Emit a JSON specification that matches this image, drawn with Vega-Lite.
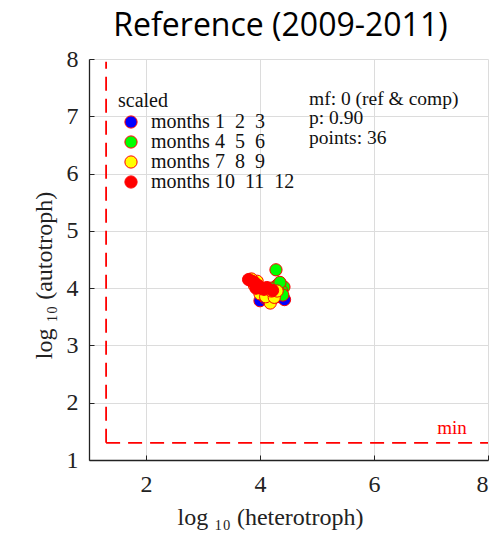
{
  "$schema": "https://vega.github.io/schema/vega-lite/v6.json",
  "autosize": "none",
  "width": 399,
  "height": 401,
  "padding": {"left": 89, "top": 59, "right": 7, "bottom": 80},
  "title": {"text": "Reference (2009-2011)", "font": "Open Sans", "fontSize": 32, "fontWeight": "normal", "color": "#000", "offset": 4, "dx": -8},
  "config": {
    "view": {"stroke": null},
    "axis": {"labelFont": "Liberation Serif", "titleFont": "Liberation Serif", "labelFontSize": 24, "titleFontSize": 24, "titleFontWeight": "normal", "labelColor": "#222", "titleColor": "#222", "domainColor": "#222", "tickColor": "#222", "gridColor": "#dcdcdc", "gridWidth": 1, "tickSize": -5, "domainWidth": 1.3, "format": "d"}
  },
  "data": {"values": [
    {"x": 4.0, "y": 3.78, "g": "months 1\u00a0\u00a02\u00a0\u00a03"},
    {"x": 4.1, "y": 3.82, "g": "months 1\u00a0\u00a02\u00a0\u00a03"},
    {"x": 4.2, "y": 3.8, "g": "months 1\u00a0\u00a02\u00a0\u00a03"},
    {"x": 4.3, "y": 3.85, "g": "months 1\u00a0\u00a02\u00a0\u00a03"},
    {"x": 4.43, "y": 3.8, "g": "months 1\u00a0\u00a02\u00a0\u00a03"},
    {"x": 4.35, "y": 3.9, "g": "months 1\u00a0\u00a02\u00a0\u00a03"},
    {"x": 4.15, "y": 3.9, "g": "months 1\u00a0\u00a02\u00a0\u00a03"},
    {"x": 4.05, "y": 3.88, "g": "months 1\u00a0\u00a02\u00a0\u00a03"},
    {"x": 4.25, "y": 3.95, "g": "months 1\u00a0\u00a02\u00a0\u00a03"},
    {"x": 4.28, "y": 4.32, "g": "months 4\u00a0\u00a05\u00a0\u00a06"},
    {"x": 4.42, "y": 4.02, "g": "months 4\u00a0\u00a05\u00a0\u00a06"},
    {"x": 4.38, "y": 3.95, "g": "months 4\u00a0\u00a05\u00a0\u00a06"},
    {"x": 4.3, "y": 4.05, "g": "months 4\u00a0\u00a05\u00a0\u00a06"},
    {"x": 4.2, "y": 4.0, "g": "months 4\u00a0\u00a05\u00a0\u00a06"},
    {"x": 4.35, "y": 4.1, "g": "months 4\u00a0\u00a05\u00a0\u00a06"},
    {"x": 4.1, "y": 3.95, "g": "months 4\u00a0\u00a05\u00a0\u00a06"},
    {"x": 4.25, "y": 3.9, "g": "months 4\u00a0\u00a05\u00a0\u00a06"},
    {"x": 4.4, "y": 3.88, "g": "months 4\u00a0\u00a05\u00a0\u00a06"},
    {"x": 4.18, "y": 3.74, "g": "months 7\u00a0\u00a08\u00a0\u00a09"},
    {"x": 4.0, "y": 3.9, "g": "months 7\u00a0\u00a08\u00a0\u00a09"},
    {"x": 3.9, "y": 4.05, "g": "months 7\u00a0\u00a08\u00a0\u00a09"},
    {"x": 3.95, "y": 4.12, "g": "months 7\u00a0\u00a08\u00a0\u00a09"},
    {"x": 4.1, "y": 3.85, "g": "months 7\u00a0\u00a08\u00a0\u00a09"},
    {"x": 4.25, "y": 3.84, "g": "months 7\u00a0\u00a08\u00a0\u00a09"},
    {"x": 4.3, "y": 3.95, "g": "months 7\u00a0\u00a08\u00a0\u00a09"},
    {"x": 3.85, "y": 4.16, "g": "months 7\u00a0\u00a08\u00a0\u00a09"},
    {"x": 4.2, "y": 3.95, "g": "months 7\u00a0\u00a08\u00a0\u00a09"},
    {"x": 3.8, "y": 4.15, "g": "months 10\u00a0\u00a011\u00a0\u00a012"},
    {"x": 3.86, "y": 4.12, "g": "months 10\u00a0\u00a011\u00a0\u00a012"},
    {"x": 3.9, "y": 4.1, "g": "months 10\u00a0\u00a011\u00a0\u00a012"},
    {"x": 3.96, "y": 4.05, "g": "months 10\u00a0\u00a011\u00a0\u00a012"},
    {"x": 4.02, "y": 4.0, "g": "months 10\u00a0\u00a011\u00a0\u00a012"},
    {"x": 4.07, "y": 3.98, "g": "months 10\u00a0\u00a011\u00a0\u00a012"},
    {"x": 4.12, "y": 4.01, "g": "months 10\u00a0\u00a011\u00a0\u00a012"},
    {"x": 4.22, "y": 3.96, "g": "months 10\u00a0\u00a011\u00a0\u00a012"},
    {"x": 3.93, "y": 4.0, "g": "months 10\u00a0\u00a011\u00a0\u00a012"}
  ]},
  "layer": [
    {
      "mark": {"type": "point", "filled": true, "size": 150, "stroke": "#ff0000", "strokeWidth": 1, "opacity": 1},
      "encoding": {
        "x": {"field": "x", "type": "quantitative", "scale": {"domain": [1, 8], "nice": false, "zero": false},
          "axis": {"values": [2, 4, 6, 8], "title": "log \u2081\u2080 (heterotroph)", "labelPadding": 17, "titlePadding": 9, "titleX": 181, "grid": true}},
        "y": {"field": "y", "type": "quantitative", "scale": {"domain": [1, 8], "nice": false, "zero": false},
          "axis": {"values": [1, 2, 3, 4, 5, 6, 7, 8], "title": "log \u2081\u2080 (autotroph)", "labelPadding": 16, "titlePadding": 10, "titleY": 216, "grid": true}},
        "color": {"field": "g", "type": "nominal",
          "scale": {"domain": ["months 1\u00a0\u00a02\u00a0\u00a03", "months 4\u00a0\u00a05\u00a0\u00a06", "months 7\u00a0\u00a08\u00a0\u00a09", "months 10\u00a0\u00a011\u00a0\u00a012"], "range": ["#0000ff", "#00ff00", "#ffff00", "#ff0000"]},
          "legend": {"title": "scaled", "orient": "none", "legendX": 29, "legendY": 32, "titleFont": "Liberation Serif", "titleFontSize": 20, "titleFontWeight": "normal", "titleColor": "#111", "titlePadding": 1, "labelFont": "Liberation Serif", "labelFontSize": 20, "labelColor": "#111", "symbolType": "circle", "symbolSize": 150, "symbolStrokeColor": "#ff0000", "symbolStrokeWidth": 1, "symbolOpacity": 1, "rowPadding": -1, "labelOffset": 10, "padding": 0, "titleAnchor": "start", "symbolOffset": 3}}
      }
    },
    {
      "data": {"values": [{}]},
      "layer": [
        {
          "mark": {"type": "rule", "color": "#ff0000", "strokeWidth": 1.8, "strokeDash": [14, 8]},
          "encoding": {"x": {"datum": 1.3}, "y": {"datum": 1.3}, "y2": {"datum": 7.95}}
        },
        {
          "mark": {"type": "rule", "color": "#ff0000", "strokeWidth": 1.8, "strokeDash": [14, 8]},
          "encoding": {"y": {"datum": 1.3}, "x": {"datum": 1.3}, "x2": {"datum": 8}}
        },
        {
          "mark": {"type": "text", "color": "#ff0000", "font": "Liberation Serif", "fontSize": 19, "align": "center", "baseline": "bottom"},
          "encoding": {"x": {"datum": 7.37}, "y": {"datum": 1.38}, "text": {"value": "min"}}
        },
        {
          "mark": {"type": "text", "color": "#111", "font": "Liberation Serif", "fontSize": 19.5, "align": "left", "baseline": "alphabetic"},
          "encoding": {"x": {"datum": 4.86}, "y": {"datum": 7.204}, "text": {"value": "mf: 0 (ref & comp)"}}
        },
        {
          "mark": {"type": "text", "color": "#111", "font": "Liberation Serif", "fontSize": 19.5, "align": "left", "baseline": "alphabetic"},
          "encoding": {"x": {"datum": 4.86}, "y": {"datum": 6.863}, "text": {"value": "p: 0.90"}}
        },
        {
          "mark": {"type": "text", "color": "#111", "font": "Liberation Serif", "fontSize": 19.5, "align": "left", "baseline": "alphabetic"},
          "encoding": {"x": {"datum": 4.86}, "y": {"datum": 6.512}, "text": {"value": "points: 36"}}
        }
      ]
    }
  ]
}
